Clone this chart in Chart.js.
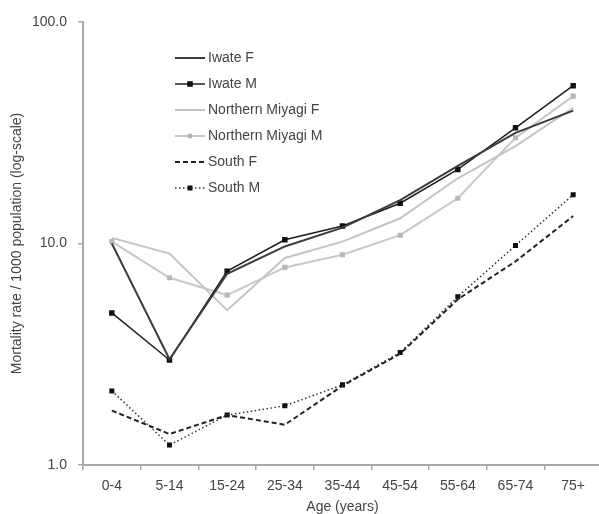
<!DOCTYPE html>
<html>
<head>
<meta charset="utf-8">
<script src="https://cdn.jsdelivr.net/npm/chart.js@4"></script>
<style>
  html, body { margin: 0; padding: 0; background: #fff; overflow: hidden; }
  #wrap { width: 599px; height: 514px; position: relative; overflow: hidden; }
  #c { display: block; }
</style>
</head>
<body>
<div id="wrap"><canvas id="c" width="608" height="514"></canvas></div>
<script>
// Age groups on the x axis
const ageGroups = ['0-4', '5-14', '15-24', '25-34', '35-44', '45-54', '55-64', '65-74', '75+'];

// Mortality rate per 1000 population, by region and sex
const iwateF     = [10.0, 3.0, 7.3, 9.7, 11.8, 15.7, 22.4, 31.6, 39.8];
const iwateM     = [4.86, 2.98, 7.5, 10.4, 12.0, 15.2, 21.6, 33.3, 51.6];
const nMiyagiF   = [10.6, 9.0, 5.0, 8.6, 10.2, 13.0, 19.7, 27.5, 41.0];
const nMiyagiM   = [10.2, 7.0, 5.85, 7.8, 8.9, 10.9, 16.0, 30.0, 46.3];
const southF     = [1.76, 1.38, 1.68, 1.52, 2.28, 3.18, 5.6, 8.3, 13.3];
const southM     = [2.16, 1.23, 1.68, 1.85, 2.30, 3.22, 5.75, 9.8, 16.6];

// Log-scale tick values
const yTicks = [1, 10, 100];

const FONT = 'Liberation Sans, Arial, sans-serif';
const TEXT = '#444';

// Legend drawn inside the plot area, top-left
const insideLegend = {
  id: 'insideLegend',
  afterDatasetsDraw(chart) {
    const ctx = chart.ctx;
    const x0 = 175, x1 = 205, tx = 208;
    let y = 58;
    const step = 26;
    ctx.save();
    chart.data.datasets.forEach(ds => {
      ctx.strokeStyle = ds.borderColor;
      ctx.lineWidth = ds.borderWidth;
      ctx.setLineDash(ds.borderDash || []);
      ctx.beginPath();
      ctx.moveTo(x0, y);
      ctx.lineTo(x1, y);
      ctx.stroke();
      ctx.setLineDash([]);
      if (ds.pointRadius > 0) {
        const r = ds.pointRadius;
        ctx.fillStyle = ds.pointBackgroundColor;
        ctx.fillRect((x0 + x1) / 2 - r, y - r, 2 * r, 2 * r);
      }
      ctx.fillStyle = TEXT;
      ctx.font = '14px ' + FONT;
      ctx.textAlign = 'left';
      ctx.textBaseline = 'middle';
      ctx.fillText(ds.label, tx, y);
      y += step;
    });
    ctx.restore();
  }
};

new Chart(document.getElementById('c'), {
  type: 'line',
  data: {
    labels: ageGroups,
    datasets: [
      { label: 'Iwate F', data: iwateF, borderColor: '#3c3c3c', borderWidth: 2,
        pointRadius: 0, pointBackgroundColor: '#3c3c3c' },
      { label: 'Iwate M', data: iwateM, borderColor: '#1e1e1e', borderWidth: 1.5,
        pointRadius: 2.8, pointStyle: 'rect', pointBackgroundColor: '#111', pointBorderColor: '#111' },
      { label: 'Northern Miyagi F', data: nMiyagiF, borderColor: '#c4c4c4', borderWidth: 2,
        pointRadius: 0, pointBackgroundColor: '#c4c4c4' },
      { label: 'Northern Miyagi M', data: nMiyagiM, borderColor: '#c8c8c8', borderWidth: 2,
        pointRadius: 2.2, pointStyle: 'rect', pointBackgroundColor: '#b8b8b8', pointBorderColor: '#b8b8b8' },
      { label: 'South F', data: southF, borderColor: '#222', borderWidth: 2, borderDash: [5, 3],
        pointRadius: 0, pointBackgroundColor: '#222' },
      { label: 'South M', data: southM, borderColor: '#333', borderWidth: 1.5, borderDash: [1.5, 2.5],
        pointRadius: 2.5, pointStyle: 'rect', pointBackgroundColor: '#111', pointBorderColor: '#111' }
    ]
  },
  options: {
    responsive: false,
    animation: false,
    layout: { padding: { top: 22, left: 0, right: 0, bottom: 0 } },
    plugins: {
      legend: { display: false },
      tooltip: { enabled: false }
    },
    elements: { line: { tension: 0 } },
    scales: {
      x: {
        type: 'category',
        offset: true,
        border: { color: '#a8a8a8', width: 2 },
        grid: { offset: true, drawOnChartArea: false, tickLength: 5, color: '#a8a8a8', lineWidth: 1.5 },
        ticks: { color: TEXT, font: { family: FONT, size: 14 }, padding: 8, maxRotation: 0 },
        title: { display: true, text: 'Age (years)', color: TEXT,
                 font: { family: FONT, size: 14, lineHeight: 1 }, padding: { top: 0, bottom: 0 } },
        afterFit(scale) { scale.height = 49; }
      },
      y: {
        type: 'logarithmic',
        min: 1,
        max: 100,
        border: { color: '#a8a8a8', width: 2 },
        grid: { drawOnChartArea: false, tickLength: 5, color: '#a8a8a8', lineWidth: 1.5 },
        afterBuildTicks(scale) { scale.ticks = yTicks.map(v => ({ value: v })); },
        ticks: { color: TEXT, font: { family: FONT, size: 14 }, padding: 11,
                 callback: v => Number(v).toFixed(1) },
        title: { display: true, text: 'Mortality rate / 1000 population (log-scale)', color: TEXT,
                 font: { family: FONT, size: 14, lineHeight: 1.2 }, padding: { top: 9, bottom: 0 } },
        afterFit(scale) { scale.width = 83; }
      }
    }
  },
  plugins: [insideLegend]
});
</script>
</body>
</html>
